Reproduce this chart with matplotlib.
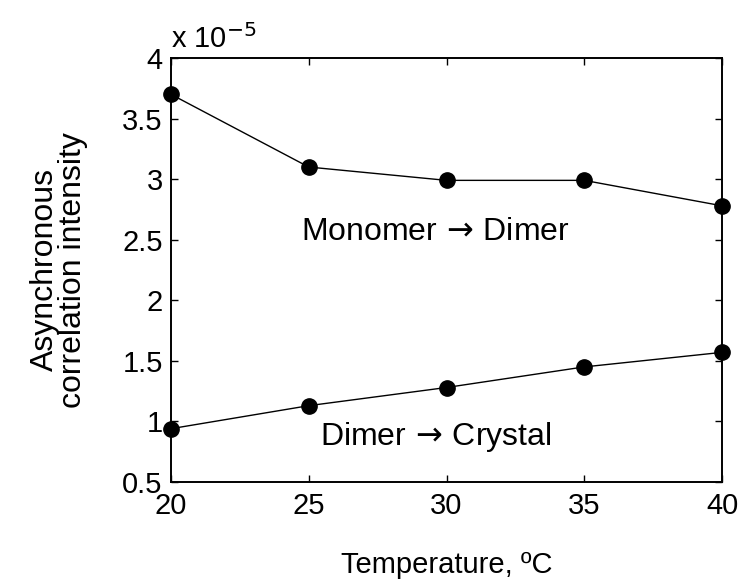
import matplotlib
matplotlib.use("Agg")
import matplotlib.pyplot as plt

plt.rcParams['font.family'] = ['Liberation Sans', 'DejaVu Sans']

# temperature (deg C) and intensities (x 1e-5)
temperature = [20, 25, 30, 35, 40]
monomer_dimer = [3.70, 3.10, 2.99, 2.99, 2.78]
dimer_crystal = [0.94, 1.13, 1.28, 1.45, 1.57]

x_ticks = [20, 25, 30, 35, 40]
y_ticks = [0.5, 1, 1.5, 2, 2.5, 3, 3.5, 4]
y_ticklabels = ['0.5', '1', '1.5', '2', '2.5', '3', '3.5', '4']

fig = plt.figure(figsize=(7.39, 5.86), dpi=100)
ax = fig.add_axes([0.2314, 0.1775, 0.7456, 0.7235])

ax.plot(temperature, monomer_dimer, 'k-o', lw=1, markersize=11, clip_on=False, zorder=3)
ax.plot(temperature, dimer_crystal, 'k-o', lw=1, markersize=11, clip_on=False, zorder=3)

ax.set_xlim(20, 40)
ax.set_ylim(0.5, 4)
ax.set_xticks(x_ticks)
ax.set_yticks(y_ticks)
ax.set_yticklabels(y_ticklabels)
ax.tick_params(direction='in', top=True, right=True, labelsize=21, length=5, width=1)
ax.tick_params(axis='x', pad=7)
ax.tick_params(axis='y', pad=6)
for s in ax.spines.values():
    s.set_linewidth(1.4)

# arrow via mathtext, with part of the relation spacing taken out
ax.text(29.6, 2.56, r'Monomer $\!\rightarrow\!$ Dimer', fontsize=23, ha='center', va='center')
ax.text(29.6, 0.87, r'Dimer $\!\rightarrow\!$ Crystal', fontsize=23, ha='center', va='center')

ax.text(0.0, 1.01, r'x 10$^{-5}$', transform=ax.transAxes, fontsize=21,
        ha='left', va='bottom')

ax.set_xlabel('Temperature, ºC', fontsize=21)
ax.xaxis.set_label_coords(0.5, -0.163)
ax.set_ylabel('Asynchronous\ncorrelation intensity', fontsize=23, linespacing=0.95)
ax.yaxis.set_label_coords(-0.15, 0.5)

fig.savefig('out.png', dpi=100)
